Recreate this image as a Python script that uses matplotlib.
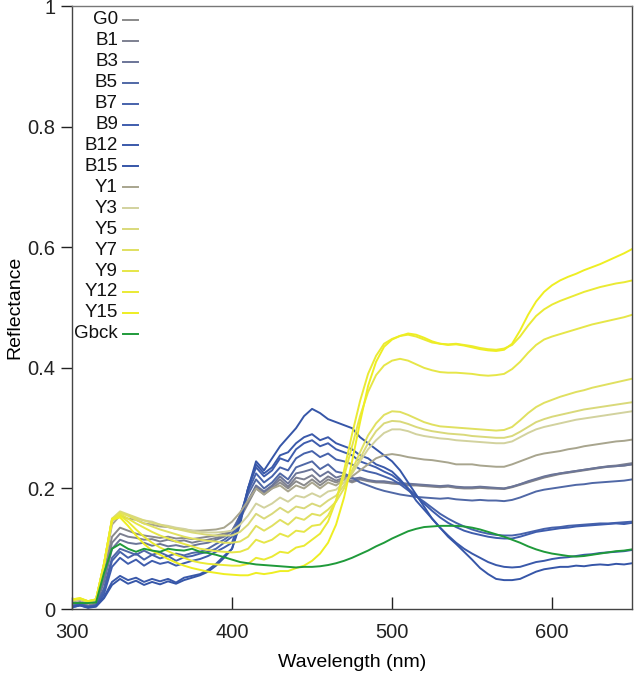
import matplotlib
matplotlib.use('Agg')
import matplotlib.pyplot as plt
import numpy as np

plt.rcParams['font.family'] = ['Liberation Sans', 'DejaVu Sans']

# wavelength grid, 5 nm steps
wl = np.arange(300, 651, 5)

labels = ['G0', 'B1', 'B3', 'B5', 'B7', 'B9', 'B12', 'B15',
          'Y1', 'Y3', 'Y5', 'Y7', 'Y9', 'Y12', 'Y15', 'Gbck']
colors = ['#8a8a8a', '#7d8090', '#6b7598', '#5068a6', '#4662ab', '#3f5dad', '#3a59aa', '#3656a8',
          '#a8a58e', '#d2d29e', '#d9d97a', '#e0e060', '#e6e648', '#eaea34', '#eeee22', '#1f9a3a']

# reflectance values (300..395 | 400..650)
G0 = [0.008, 0.012, 0.006, 0.01, 0.06, 0.12, 0.135, 0.13, 0.125, 0.122, 0.12, 0.118, 0.12, 0.117, 0.118, 0.116, 0.118, 0.12, 0.122, 0.125,
      0.13, 0.15, 0.175, 0.2, 0.19, 0.2, 0.21, 0.2, 0.212, 0.205, 0.215, 0.205, 0.215, 0.21, 0.215, 0.21, 0.215, 0.212, 0.21, 0.21,
      0.208, 0.207, 0.205, 0.205, 0.204, 0.203, 0.202, 0.203, 0.201, 0.2, 0.2, 0.201, 0.2, 0.2, 0.199, 0.202, 0.206, 0.21, 0.214, 0.218,
      0.221, 0.224, 0.226, 0.228, 0.23, 0.232, 0.234, 0.236, 0.237, 0.238, 0.24]
B1 = [0.006, 0.01, 0.005, 0.008, 0.05, 0.11, 0.125, 0.12, 0.118, 0.115, 0.116, 0.112, 0.115, 0.112, 0.114, 0.11, 0.113, 0.115, 0.118, 0.122,
      0.13, 0.152, 0.178, 0.202, 0.192, 0.203, 0.215, 0.203, 0.218, 0.215, 0.222, 0.21, 0.22, 0.213, 0.218, 0.212, 0.216, 0.213, 0.211, 0.21,
      0.209, 0.208, 0.206, 0.206, 0.205, 0.204, 0.203, 0.204, 0.202, 0.201, 0.201, 0.202, 0.201, 0.2, 0.2, 0.203, 0.207, 0.211, 0.215, 0.219,
      0.222, 0.225, 0.227, 0.229, 0.231, 0.233, 0.235, 0.237, 0.238, 0.24, 0.242]
B3 = [0.005, 0.009, 0.004, 0.007, 0.045, 0.1, 0.115, 0.11, 0.108, 0.11, 0.105, 0.108, 0.104, 0.106, 0.103, 0.105, 0.108, 0.11, 0.115, 0.12,
      0.13, 0.155, 0.18, 0.205, 0.195, 0.205, 0.22, 0.208, 0.225, 0.228, 0.232, 0.22, 0.228, 0.218, 0.222, 0.216, 0.218, 0.214, 0.212, 0.212,
      0.21, 0.209, 0.208, 0.207, 0.206, 0.205, 0.204, 0.205, 0.203, 0.202, 0.202, 0.203, 0.202, 0.201, 0.2, 0.203, 0.207, 0.212, 0.216, 0.22,
      0.223, 0.225, 0.227, 0.229, 0.231, 0.233, 0.235, 0.236, 0.237, 0.238, 0.24]
B5 = [0.005, 0.008, 0.004, 0.006, 0.035, 0.085, 0.1, 0.095, 0.09, 0.097, 0.09, 0.094, 0.088, 0.092, 0.089, 0.093, 0.095, 0.1, 0.108, 0.115,
      0.125, 0.155, 0.19, 0.215, 0.2, 0.21, 0.225, 0.215, 0.235, 0.24, 0.245, 0.232, 0.24, 0.228, 0.225, 0.218, 0.21, 0.205, 0.2, 0.196,
      0.193, 0.19, 0.188, 0.186, 0.185, 0.184, 0.183, 0.184, 0.182, 0.181, 0.18, 0.181, 0.18, 0.18, 0.179, 0.181, 0.185, 0.19, 0.195, 0.198,
      0.2, 0.202, 0.204, 0.206, 0.207, 0.209, 0.21, 0.211, 0.212, 0.213, 0.215]
B7 = [0.004, 0.008, 0.004, 0.006, 0.03, 0.08, 0.095, 0.085, 0.092, 0.082, 0.09, 0.084, 0.088, 0.08, 0.086, 0.088, 0.092, 0.095, 0.1, 0.11,
      0.12, 0.155, 0.195, 0.225, 0.21, 0.22, 0.235, 0.23, 0.25, 0.258, 0.262, 0.252, 0.258, 0.248, 0.245, 0.24, 0.232, 0.228, 0.225, 0.22,
      0.215, 0.207, 0.197, 0.187, 0.178, 0.168, 0.158, 0.15, 0.143, 0.137, 0.132, 0.128, 0.125, 0.123, 0.122, 0.122, 0.124, 0.127, 0.13, 0.133,
      0.135, 0.136, 0.138, 0.139, 0.14, 0.141, 0.142, 0.142, 0.143, 0.144, 0.145]
B9 = [0.004, 0.007, 0.003, 0.005, 0.025, 0.07, 0.085, 0.075, 0.082, 0.072, 0.08, 0.075, 0.078, 0.072, 0.076, 0.08, 0.083, 0.088, 0.095, 0.102,
      0.11, 0.15, 0.2, 0.235, 0.22, 0.23, 0.25, 0.245, 0.265, 0.275, 0.28, 0.27, 0.275, 0.265, 0.26, 0.255, 0.245, 0.24, 0.235, 0.228,
      0.222, 0.212, 0.2, 0.188, 0.175, 0.163, 0.152, 0.143, 0.136, 0.13, 0.126, 0.123, 0.12, 0.118, 0.117, 0.117, 0.12, 0.124, 0.128, 0.13,
      0.132, 0.134, 0.135, 0.137, 0.138, 0.139, 0.14, 0.141, 0.142, 0.141, 0.143]
B12 = [0.003, 0.006, 0.003, 0.005, 0.02, 0.045, 0.055, 0.048, 0.052, 0.045, 0.05, 0.046, 0.05, 0.044, 0.052, 0.055, 0.058, 0.065, 0.075, 0.088,
       0.1, 0.145, 0.2, 0.24, 0.225, 0.235, 0.255, 0.26, 0.275, 0.285, 0.29, 0.28, 0.285, 0.275, 0.27, 0.265, 0.255, 0.25, 0.24, 0.235,
       0.228, 0.215, 0.2, 0.18, 0.165, 0.15, 0.135, 0.122, 0.11, 0.1, 0.092, 0.085, 0.078, 0.073, 0.07, 0.069, 0.07, 0.074, 0.078, 0.08,
       0.083, 0.085, 0.086, 0.088, 0.09, 0.091, 0.093, 0.094, 0.095, 0.096, 0.098]
B15 = [0.003, 0.006, 0.002, 0.004, 0.018, 0.04, 0.05, 0.042, 0.047, 0.04, 0.045, 0.041, 0.046, 0.042, 0.048, 0.052, 0.056, 0.062, 0.072, 0.085,
       0.1, 0.14, 0.2, 0.245, 0.23, 0.25, 0.27, 0.285, 0.3, 0.32, 0.332, 0.325, 0.315, 0.31, 0.305, 0.3, 0.285, 0.275, 0.265, 0.255,
       0.245, 0.23, 0.21, 0.19, 0.17, 0.15, 0.135, 0.12, 0.108, 0.095, 0.082, 0.068, 0.058, 0.05, 0.048, 0.048, 0.05, 0.056, 0.062, 0.066,
       0.068, 0.07, 0.07, 0.072, 0.071, 0.073, 0.074, 0.073, 0.075, 0.074, 0.076]
Y1 = [0.012, 0.015, 0.01, 0.014, 0.07, 0.14, 0.155, 0.15, 0.148, 0.142, 0.14, 0.137, 0.136, 0.133, 0.132, 0.13, 0.13, 0.131, 0.132, 0.135,
      0.145, 0.16, 0.18, 0.2, 0.19, 0.2, 0.205, 0.195, 0.205, 0.2, 0.21, 0.2, 0.21, 0.205, 0.215, 0.22, 0.23, 0.24, 0.25, 0.255,
      0.257, 0.255, 0.252, 0.25, 0.248, 0.247, 0.245, 0.243, 0.24, 0.24, 0.24, 0.238, 0.237, 0.236, 0.236, 0.24, 0.245, 0.25, 0.255, 0.258,
      0.26, 0.262, 0.265, 0.267, 0.27, 0.272, 0.274, 0.276, 0.278, 0.279, 0.281]
Y3 = [0.014, 0.016, 0.012, 0.015, 0.075, 0.145, 0.16, 0.155, 0.15, 0.147, 0.145, 0.14, 0.138, 0.135, 0.133, 0.13, 0.128, 0.127, 0.127, 0.128,
      0.13, 0.14, 0.155, 0.175, 0.168, 0.175, 0.185, 0.178, 0.188, 0.185, 0.192, 0.186, 0.195, 0.198, 0.21, 0.225, 0.245, 0.265, 0.28, 0.292,
      0.298, 0.298, 0.295, 0.29, 0.287, 0.285, 0.283, 0.282, 0.28, 0.279, 0.278, 0.277, 0.276, 0.275, 0.275, 0.278, 0.285, 0.292, 0.298, 0.302,
      0.305, 0.308, 0.311, 0.314, 0.316, 0.318, 0.32, 0.322, 0.324, 0.326, 0.328]
Y5 = [0.015, 0.017, 0.013, 0.016, 0.075, 0.15, 0.162, 0.157, 0.152, 0.147, 0.143, 0.14, 0.136, 0.133, 0.13, 0.127, 0.125, 0.123, 0.122, 0.122,
      0.122, 0.128, 0.14, 0.158, 0.15, 0.158, 0.168, 0.16, 0.17, 0.167, 0.175, 0.17, 0.18, 0.188, 0.205, 0.225, 0.25, 0.275, 0.295, 0.308,
      0.312, 0.311, 0.307, 0.302, 0.298, 0.295, 0.293, 0.291, 0.29, 0.289, 0.287, 0.286, 0.285, 0.284, 0.284, 0.287, 0.294, 0.302, 0.31, 0.315,
      0.319, 0.322, 0.325, 0.328, 0.331, 0.333, 0.335, 0.337, 0.339, 0.341, 0.343]
Y7 = [0.015, 0.017, 0.013, 0.016, 0.075, 0.148, 0.16, 0.155, 0.148, 0.142, 0.137, 0.132, 0.128, 0.124, 0.12, 0.117, 0.115, 0.113, 0.112, 0.11,
      0.11, 0.112, 0.12, 0.138, 0.13, 0.138, 0.148, 0.14, 0.152, 0.148, 0.158, 0.155, 0.165, 0.178, 0.2, 0.23, 0.26, 0.288, 0.308, 0.322,
      0.328, 0.327, 0.322, 0.316, 0.31, 0.306, 0.303, 0.302, 0.301, 0.3, 0.299, 0.298, 0.297, 0.296, 0.297, 0.302, 0.313, 0.325, 0.335, 0.342,
      0.347, 0.352, 0.356, 0.36, 0.363, 0.367, 0.37, 0.373, 0.376, 0.379, 0.382]
Y9 = [0.015, 0.017, 0.012, 0.016, 0.075, 0.148, 0.158, 0.15, 0.142, 0.135, 0.128, 0.122, 0.117, 0.112, 0.108, 0.104, 0.1, 0.098, 0.096, 0.095,
      0.094, 0.095, 0.1, 0.115, 0.11, 0.115, 0.125, 0.12, 0.13, 0.128, 0.138, 0.14, 0.155, 0.18, 0.22, 0.27, 0.32, 0.36, 0.388, 0.404,
      0.412, 0.415, 0.412, 0.406, 0.4, 0.396, 0.393, 0.392, 0.392, 0.391, 0.39, 0.388, 0.387, 0.388, 0.39, 0.398, 0.41, 0.425, 0.438, 0.447,
      0.452, 0.456, 0.46, 0.464, 0.468, 0.472, 0.475, 0.478, 0.481, 0.484, 0.488]
Y12 = [0.016, 0.018, 0.013, 0.016, 0.075, 0.15, 0.155, 0.145, 0.132, 0.12, 0.11, 0.102, 0.096, 0.09, 0.085, 0.08, 0.077, 0.075, 0.074, 0.073,
       0.072, 0.072, 0.075, 0.085, 0.082, 0.087, 0.095, 0.093, 0.102, 0.105, 0.115, 0.125, 0.145, 0.18, 0.23, 0.29, 0.345, 0.39, 0.42, 0.44,
       0.448, 0.453, 0.455, 0.452, 0.447, 0.442, 0.44, 0.439, 0.44, 0.438, 0.436, 0.433, 0.431, 0.43, 0.432, 0.438, 0.452, 0.47, 0.486, 0.497,
       0.505, 0.511, 0.516, 0.521, 0.526, 0.53, 0.534, 0.537, 0.54, 0.542, 0.545]
Y15 = [0.016, 0.018, 0.013, 0.016, 0.075, 0.148, 0.152, 0.138, 0.122, 0.108, 0.097, 0.09, 0.083, 0.077, 0.072, 0.068, 0.065, 0.062, 0.06, 0.058,
       0.057, 0.056, 0.056, 0.06, 0.058, 0.06, 0.063, 0.063, 0.068, 0.072, 0.08, 0.092, 0.11, 0.14, 0.185, 0.245, 0.31, 0.37, 0.41, 0.435,
       0.447, 0.453, 0.457, 0.455, 0.45, 0.444, 0.44, 0.438, 0.439, 0.437, 0.434, 0.431, 0.429, 0.428, 0.43, 0.44, 0.462, 0.488, 0.51, 0.526,
       0.537, 0.545, 0.551, 0.556, 0.562, 0.567, 0.572, 0.578, 0.584, 0.59, 0.597]
Gbck = [0.01, 0.01, 0.01, 0.011, 0.06, 0.1, 0.108, 0.1, 0.095, 0.1, 0.097, 0.095, 0.1, 0.098, 0.097, 0.1, 0.095, 0.093, 0.09, 0.086,
        0.082, 0.078, 0.076, 0.074, 0.073, 0.072, 0.071, 0.07, 0.069, 0.07, 0.07, 0.071, 0.073, 0.076, 0.08, 0.085, 0.091, 0.097, 0.104, 0.11,
        0.117, 0.123, 0.129, 0.133, 0.136, 0.137, 0.138, 0.138, 0.138, 0.137, 0.135, 0.132, 0.128, 0.124, 0.12, 0.115, 0.11, 0.104, 0.099, 0.095,
        0.092, 0.09, 0.088, 0.087, 0.088, 0.09, 0.092, 0.094, 0.096, 0.097, 0.099]

series = [G0, B1, B3, B5, B7, B9, B12, B15, Y1, Y3, Y5, Y7, Y9, Y12, Y15, Gbck]

fig = plt.figure(figsize=(6.34, 6.73), dpi=100)
ax = fig.add_axes([0.1136, 0.095, 0.997 - 0.1136, 0.991 - 0.095])

for lab, col, vals in zip(labels, colors, series):
    ax.plot(wl, vals, color=col, lw=1.4)

ax.set_xlim(300, 650)
ax.set_ylim(0, 1)
ax.set_xticks([300, 400, 500, 600])
ax.set_yticks([0, 0.2, 0.4, 0.6, 0.8, 1.0])
ax.set_yticklabels(['0', '0.2', '0.4', '0.6', '0.8', '1'])
ax.tick_params(axis='x', direction='in', length=9, width=1, pad=10, labelsize=14.5, colors='#222222')
ax.tick_params(axis='y', direction='out', length=8, width=1, pad=4, labelsize=14.5, colors='#222222')
for sp in ax.spines.values():
    sp.set_color('#444444')
    sp.set_linewidth(1.0)
ax.spines['top'].set_color('#777777')

ax.set_xlabel('Wavelength (nm)', fontsize=14, labelpad=9)
ax.set_ylabel('Reflectance', fontsize=14, labelpad=3)

# legend: labels right-aligned, short line to the right
row0 = 0.977
step = 0.0347
for i, (lab, col) in enumerate(zip(labels, colors)):
    y = row0 - i * step
    ax.text(0.082, y, lab, transform=ax.transAxes, ha='right', va='center', fontsize=13.5, color='#111111')
    ax.plot([0.091, 0.118], [y, y], transform=ax.transAxes, color=col, lw=1.4, clip_on=False)

fig.savefig('out.png', dpi=100)
